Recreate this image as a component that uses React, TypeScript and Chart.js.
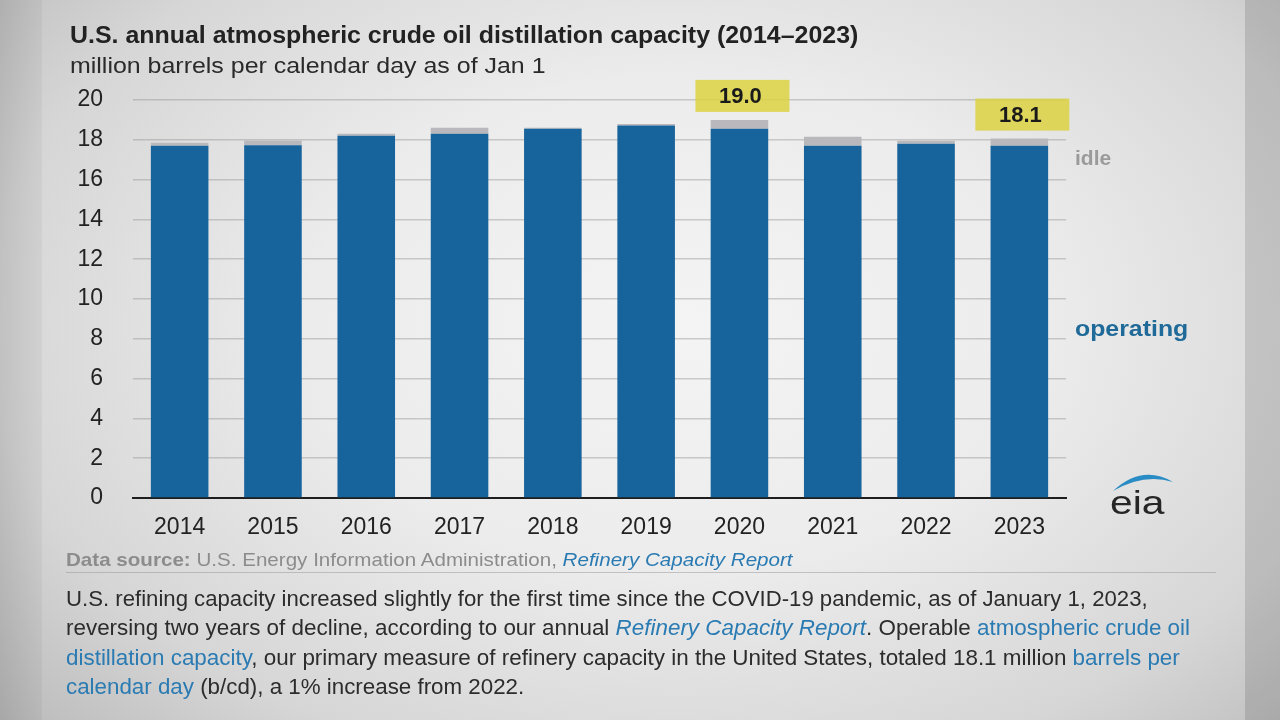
import React, { useEffect, useLayoutEffect, useRef } from 'react';
import { Chart, registerables } from 'chart.js';

Chart.register(...registerables);

const years = ['2014', '2015', '2016', '2017', '2018', '2019', '2020', '2021', '2022', '2023'];
const operating = [17.7, 17.72, 18.2, 18.3, 18.55, 18.72, 18.55, 17.7, 17.8, 17.7];
const idle = [0.15, 0.25, 0.1, 0.3, 0.05, 0.08, 0.45, 0.45, 0.15, 0.36];
const calloutLabels = ['', '', '', '', '', '', '19.0', '', '', '18.1'];
const yMin = 0;
const yMax = 20;
const yStep = 2;

const FONT = '"Liberation Sans", Arial, Helvetica, sans-serif';
const BLUE = '#17639c';
const GRAY_BAR = '#b9b9bd';
const LINK = '#2b7bb3';
const TEXT = '#2c2c2c';

const calloutPlugin = {
  id: 'callouts',
  afterDatasetsDraw(chart: any) {
    const ctx = chart.ctx;
    const meta = chart.getDatasetMeta(1);
    const ys = chart.scales.y;
    calloutLabels.forEach((txt, i) => {
      if (!txt) return;
      const bar = meta.data[i];
      const top = ys.getPixelForValue(operating[i] + idle[i]);
      const w = 94;
      const h = 32;
      const cx = bar.x + 3;
      const by = top - 8 - h;
      ctx.save();
      ctx.fillStyle = 'rgba(220,210,60,0.82)';
      ctx.fillRect(cx - w / 2, by, w, h);
      ctx.fillStyle = '#1a1a1a';
      ctx.font = `bold 22px ${FONT}`;
      ctx.textAlign = 'center';
      ctx.textBaseline = 'middle';
      ctx.fillText(txt, cx - 2, by + h / 2 + 1);
      ctx.restore();
    });
  },
};

function FitText(props: {
  x: number;
  cy: number;
  size: number;
  width?: number;
  weight?: string;
  color?: string;
  italic?: boolean;
  children: React.ReactNode;
}) {
  const ref = useRef<HTMLDivElement>(null);
  useLayoutEffect(() => {
    const el = ref.current;
    if (!el || !props.width) return;
    el.style.transform = 'none';
    const natural = el.scrollWidth;
    if (natural > 0) el.style.transform = `scaleX(${props.width / natural})`;
  });
  return (
    <div
      ref={ref}
      style={{
        position: 'absolute',
        left: props.x,
        top: props.cy - props.size / 2,
        fontSize: props.size,
        lineHeight: `${props.size}px`,
        fontFamily: FONT,
        fontWeight: props.weight || 'normal',
        fontStyle: props.italic ? 'italic' : 'normal',
        color: props.color || TEXT,
        whiteSpace: 'nowrap',
        transformOrigin: 'left center',
      }}
    >
      {props.children}
    </div>
  );
}

const L = (p: { children: React.ReactNode; i?: boolean }) => (
  <span style={{ color: LINK, fontStyle: p.i ? 'italic' : 'normal' }}>{p.children}</span>
);

export default function App() {
  const canvasRef = useRef<HTMLCanvasElement>(null);

  useEffect(() => {
    document.body.style.margin = '0';
    const chart = new Chart(canvasRef.current!, {
      type: 'bar',
      data: {
        labels: years,
        datasets: [
          {
            label: 'operating',
            data: operating,
            backgroundColor: BLUE,
            borderWidth: 0,
            barPercentage: 0.617,
            categoryPercentage: 1,
          },
          {
            label: 'idle',
            data: idle,
            backgroundColor: GRAY_BAR,
            borderWidth: 0,
            barPercentage: 0.617,
            categoryPercentage: 1,
          },
        ],
      },
      options: {
        animation: false,
        responsive: false,
        maintainAspectRatio: false,
        layout: { padding: { left: 0, right: 214, top: 100, bottom: 0 } },
        plugins: {
          legend: { display: false },
          tooltip: { enabled: false },
          title: { display: false },
        },
        scales: {
          x: {
            stacked: true,
            grid: { display: false, drawTicks: false },
            border: { display: true, color: '#1e1e1e', width: 2 },
            ticks: { color: '#222', font: { family: FONT, size: 23 }, padding: 16 },
            afterFit: (s: any) => {
              s.height = 222;
            },
          },
          y: {
            stacked: true,
            min: yMin,
            max: yMax,
            ticks: {
              stepSize: yStep,
              color: '#222',
              font: { family: FONT, size: 23 },
              padding: 30,
            },
            grid: { color: 'rgba(140,140,140,0.4)', lineWidth: 1.5, drawTicks: false },
            border: { display: false },
            afterFit: (s: any) => {
              s.width = 133;
            },
          },
        },
      },
      plugins: [calloutPlugin],
    } as any);
    return () => chart.destroy();
  }, []);

  return (
    <div
      style={{
        position: 'fixed',
        left: 0,
        top: 0,
        width: 1280,
        height: 720,
        overflow: 'hidden',
        background:
          'radial-gradient(ellipse 72% 85% at 53% 45%, #f4f4f4 0%, #ececec 40%, #d6d6d6 75%, #b8b8b8 100%)',
      }}
    >
      <div style={{ position: 'absolute', left: 0, top: 0, width: 42, height: 720, background: 'linear-gradient(to right, rgba(0,0,0,0.1), rgba(0,0,0,0.04))' }} />
      <div style={{ position: 'absolute', left: 1245, top: 0, width: 35, height: 720, background: 'rgba(0,0,0,0.12)' }} />

      <canvas
        ref={canvasRef}
        width={1280}
        height={720}
        style={{ position: 'absolute', left: 0, top: 0, width: 1280, height: 720 }}
      />

      <FitText x={70} cy={35} size={23} width={788} weight="bold" color="#222">
        U.S. annual atmospheric crude oil distillation capacity (2014–2023)
      </FitText>
      <FitText x={70} cy={66} size={22} width={475} color="#2a2a2a">
        million barrels per calendar day as of Jan 1
      </FitText>

      <FitText x={1075} cy={157} size={21} weight="bold" color="#9a9a9a">
        idle
      </FitText>
      <FitText x={1075} cy={329} size={22} width={113} weight="bold" color="#1f6a98">
        operating
      </FitText>

      <svg
        width={90}
        height={70}
        style={{ position: 'absolute', left: 1100, top: 460 }}
        viewBox="0 0 90 70"
      >
        <path d="M 13 31 Q 42 4 73 22 Q 44 13 13 31 Z" fill="#2a8cc4" />
      </svg>
      <FitText x={1110} cy={502} size={34} width={54} color="#262626">
        eia
      </FitText>

      <FitText x={66} cy={559} size={19} width={727} color="#8c8c8c">
        <span style={{ fontWeight: 'bold' }}>Data source:</span> U.S. Energy Information Administration,{' '}
        <L i>Refinery Capacity Report</L>
      </FitText>
      <div style={{ position: 'absolute', left: 66, top: 572, width: 1150, height: 1, background: 'rgba(150,150,150,0.5)' }} />

      <FitText x={66} cy={599} size={22} width={1082}>
        U.S. refining capacity increased slightly for the first time since the COVID-19 pandemic, as of January 1, 2023,
      </FitText>
      <FitText x={66} cy={628} size={22} width={1124}>
        reversing two years of decline, according to our annual <L i>Refinery Capacity Report</L>. Operable{' '}
        <L>atmospheric crude oil</L>
      </FitText>
      <FitText x={66} cy={658} size={22} width={1114}>
        <L>distillation capacity</L>, our primary measure of refinery capacity in the United States, totaled 18.1 million{' '}
        <L>barrels per</L>
      </FitText>
      <FitText x={66} cy={687} size={22} width={458}>
        <L>calendar day</L> (b/cd), a 1% increase from 2022.
      </FitText>
    </div>
  );
}
